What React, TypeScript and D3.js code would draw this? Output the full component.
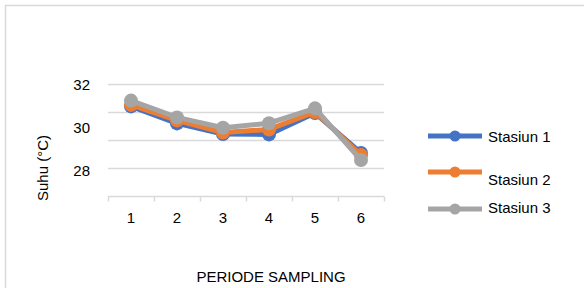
import React, { useEffect, useRef } from 'react';
import * as d3 from 'd3';

const periods = ['1', '2', '3', '4', '5', '6'];
const stasiun1 = [30.96, 30.17, 29.68, 29.66, 30.65, 28.8];
const stasiun2 = [31.03, 30.31, 29.75, 29.89, 30.7, 28.7];
const stasiun3 = [31.23, 30.45, 29.97, 30.18, 30.87, 28.47];
const seriesNames = ['Stasiun 1', 'Stasiun 2', 'Stasiun 3'];
const seriesColors = ['#4472C4', '#ED7D31', '#A5A5A5'];
const yLabels = [32, 30, 28];
const gridValues = [26.8, 28.1, 29.4, 30.7, 32];

const FONT = '"Liberation Sans", Arial, sans-serif';

const App = () => {
  const svgRef = useRef<SVGSVGElement>(null);

  useEffect(() => {
    const svgEl = svgRef.current;
    if (!svgEl) return;
    d3.select(svgEl).selectAll('*').remove();

    const width = 584;
    const height = 288;
    const svg = d3.select(svgEl);

    // outer chart frame (only top & left visible)
    svg.append('path')
      .attr('d', `M5.5,${height} V5.5 H${width}`)
      .attr('fill', 'none')
      .attr('stroke', '#d9d9d9')
      .attr('stroke-width', 1.5);

    const x = d3.scaleBand().domain(periods).range([108, 384]);
    const y = d3.scaleLinear().domain([26.8, 32]).range([196, 84]);

    // gridlines
    svg.append('g')
      .selectAll('line')
      .data(gridValues.slice(1))
      .join('line')
      .attr('x1', 108)
      .attr('x2', 384)
      .attr('y1', d => Math.round(y(d)) + 0.5)
      .attr('y2', d => Math.round(y(d)) + 0.5)
      .attr('stroke', '#d9d9d9')
      .attr('stroke-width', 1.5);

    // x axis
    const axisY = Math.round(y(gridValues[0])) + 0.5;
    svg.append('line')
      .attr('x1', 108).attr('x2', 384)
      .attr('y1', axisY).attr('y2', axisY)
      .attr('stroke', '#d9d9d9').attr('stroke-width', 1.5);

    const tickPos = periods.map(p => x(p) as number).concat([384]);
    svg.append('g')
      .selectAll('line')
      .data(tickPos)
      .join('line')
      .attr('x1', d => Math.round(d) + 0.5)
      .attr('x2', d => Math.round(d) + 0.5)
      .attr('y1', axisY)
      .attr('y2', axisY + 5)
      .attr('stroke', '#d9d9d9')
      .attr('stroke-width', 1.5);

    svg.append('g')
      .selectAll('text')
      .data(periods)
      .join('text')
      .attr('x', d => (x(d) as number) + x.bandwidth() / 2)
      .attr('y', 223)
      .attr('text-anchor', 'middle')
      .style('font-family', FONT)
      .style('font-size', '15px')
      .attr('fill', '#000')
      .text(d => d);

    // y labels (placed on their own scale like the source)
    const yl = d3.scaleLinear().domain([28, 32]).range([171, 85]);
    svg.append('g')
      .selectAll('text')
      .data(yLabels)
      .join('text')
      .attr('x', 90)
      .attr('y', d => yl(d) + 5)
      .attr('text-anchor', 'end')
      .style('font-family', FONT)
      .style('font-size', '15px')
      .attr('fill', '#000')
      .text(d => d);

    // axis titles
    svg.append('text')
      .attr('transform', 'translate(48,168) rotate(-90)')
      .attr('text-anchor', 'middle')
      .style('font-family', FONT)
      .style('font-size', '15px')
      .text('Suhu (°C)');

    svg.append('text')
      .attr('x', 271)
      .attr('y', 282)
      .attr('text-anchor', 'middle')
      .style('font-family', FONT)
      .style('font-size', '15px')
      .text('PERIODE SAMPLING');

    // series
    const all = [stasiun1, stasiun2, stasiun3];
    const line = d3.line<number>()
      .x((_, i) => (x(periods[i]) as number) + x.bandwidth() / 2)
      .y(d => y(d));

    all.forEach((vals, si) => {
      const g = svg.append('g');
      g.append('path')
        .attr('d', line(vals))
        .attr('fill', 'none')
        .attr('stroke', seriesColors[si])
        .attr('stroke-width', 5)
        .attr('stroke-linejoin', 'round');
      g.selectAll('circle')
        .data(vals)
        .join('circle')
        .attr('cx', (_, i) => (x(periods[i]) as number) + x.bandwidth() / 2)
        .attr('cy', d => y(d))
        .attr('r', 7)
        .attr('fill', seriesColors[si]);
    });

    // legend
    const legendLineY = [136, 172, 209];
    const legendTextY = [137, 180, 208];
    seriesNames.forEach((name, i) => {
      const lg = svg.append('g');
      lg.append('line')
        .attr('x1', 428).attr('x2', 482)
        .attr('y1', legendLineY[i]).attr('y2', legendLineY[i])
        .attr('stroke', seriesColors[i])
        .attr('stroke-width', 5);
      lg.append('circle')
        .attr('cx', 455).attr('cy', legendLineY[i])
        .attr('r', 5.5)
        .attr('fill', seriesColors[i]);
      lg.append('text')
        .attr('x', 488)
        .attr('y', legendTextY[i] + 5)
        .style('font-family', FONT)
        .style('font-size', '15px')
        .text(name);
    });
  }, []);

  return (
    <svg
      ref={svgRef}
      width={584}
      height={288}
      style={{ position: 'absolute', left: 0, top: 0, background: '#fff' }}
    />
  );
};

export default App;
